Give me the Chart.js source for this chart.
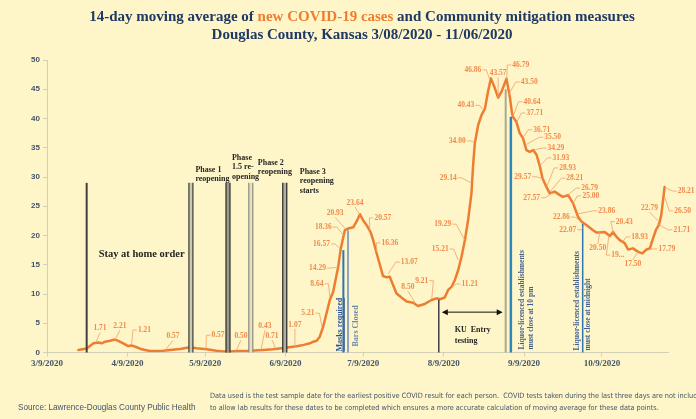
<!DOCTYPE html>
<html>
<head>
<meta charset="utf-8">
<script src="https://cdn.jsdelivr.net/npm/chart.js@4"></script>
<style>
  html, body { margin: 0; padding: 0; background: #fef6c9; }
  canvas { display: block; }
</style>
</head>
<body>
<canvas id="chart" width="696" height="419"></canvas>
<script>
// x axis: days since 3/9/2020
const tickDays = [0, 31, 61, 92, 122, 153, 184, 214];
const tickLabels = ['3/9/2020', '4/9/2020', '5/9/2020', '6/9/2020', '7/9/2020', '8/9/2020', '9/9/2020', '10/9/2020'];

// 14-day moving average
const days = [
  12.1, 15.3, 17.9, 19.8, 21.1, 22.4, 24.3, 26.2, 27.5, 29.4, 31.3, 32.6, 34.6, 36.5, 39.7, 42.3, 44.8, 47.4,
  51.3, 55.1, 57.7, 61.6, 65.4, 69.3, 73.1, 78.3, 83.4, 87.2, 91.1, 96.3, 99.0, 101.4, 102.7, 104.0, 105.2,
  106.5, 107.8, 109.1, 110.4, 111.0, 112.3, 113.2, 114.0, 114.9, 116.2, 118.1, 119.4, 120.7, 121.9, 123.2,
  124.8, 125.8, 127.1, 128.4, 129.6, 131.0, 132.2, 133.5, 134.8, 136.7, 138.7, 141.2, 143.1, 145.7, 148.3,
  150.2, 151.5, 153.4, 154.7, 156.0, 157.3, 158.6, 159.9, 161.2, 162.4, 163.7, 164.3, 165.0, 166.3, 167.6,
  168.9, 170.1, 171.2, 172.7, 174.0, 175.3, 177.2, 177.8, 178.5, 179.3, 179.7, 181.0, 182.3, 183.6, 184.9,
  186.2, 187.5, 188.8, 190.1, 191.1, 192.6, 193.9, 195.8, 197.8, 199.0, 201.0, 202.9, 204.8, 206.1, 208.0,
  210.6, 211.9, 213.2, 215.1, 217.1, 218.3, 219.6, 220.9, 222.8, 224.1, 226.0, 228.0, 229.6, 231.2, 232.5,
  233.5, 234.8, 236.0, 236.9, 238.2
];
const cases = [
  0.43, 0.7, 1.57, 1.71, 1.57, 1.85, 2.0, 2.21, 2.0, 1.57, 1.1, 1.21, 0.9, 0.55, 0.25, 0.25, 0.3, 0.43,
  0.6, 0.89, 0.72, 0.57, 0.3, 0.14, 0.25, 0.3, 0.43, 0.55, 0.75, 1.07, 1.3, 1.57, 1.85, 2.0, 2.7,
  4.4, 6.7, 9.0, 10.4, 11.8, 14.6, 17.5, 19.2, 20.93, 21.2, 21.4, 22.4, 23.64, 22.6, 21.8,
  20.57, 19.2, 17.0, 14.96, 13.07, 12.85, 12.96, 11.5, 10.1, 9.4, 8.7, 8.5, 7.95, 8.3, 8.97,
  9.26, 9.1, 9.4, 10.7, 11.21, 12.4, 14.1, 16.4, 19.29, 22.6, 27.2, 31.8, 35.8, 38.9, 40.6,
  41.7, 44.6, 46.86, 45.2, 43.57, 44.6, 46.79, 45.4, 43.7, 41.0, 40.3, 39.45, 37.5, 36.6, 34.6,
  34.3, 34.6, 33.8, 31.8, 29.8, 28.3, 27.2, 27.5, 26.9, 26.6, 26.9, 25.5, 23.2, 22.4, 21.8,
  20.9, 20.5, 20.5, 20.6, 19.9, 20.6, 19.8, 19.2, 18.7, 17.6, 17.8, 17.2, 16.95, 17.6, 17.8,
  19.2, 20.9, 21.8, 23.5, 28.3
];

// data labels: text, anchor day, anchor value
const labelTexts = ['1.71', '2.21', '1.21', '0.57', '0.57', '0.50', '0.43', '0.71', '1.07', '5.21', '8.64', '14.29',
  '16.57', '18.36', '20.93', '23.64', '20.57', '16.36', '13.07', '8.50', '9.21', '11.21', '15.21', '19.29', '29.14',
  '34.00', '40.43', '46.86', '43.57', '46.79', '43.50', '40.64', '37.71', '36.71', '35.50', '34.29', '31.93', '29.57',
  '28.93', '28.21', '27.57', '26.79', '25.00', '23.86', '22.86', '22.07', '20.50', '19...', '20.43', '18.93', '17.50',
  '17.79', '22.79', '21.71', '26.50', '28.21'];
const labelDays = [18.9, 26.2, 32.6, 45.5, 61.3, 72.9, 82.5, 88.3, 95.6, 106.0, 109.1, 112.4,
  113.2, 114.7, 115.0, 120.7, 124.5, 127.2, 131.6, 141.9, 148.4, 156.1, 158.6, 161.1, 163.6,
  164.4, 168.5, 170.8, 174.0, 177.3, 177.9, 179.7, 181.2, 183.5, 185.0, 187.4, 190.1, 191.2,
  192.7, 193.9, 195.0, 200.8, 202.8, 204.7, 206.1, 207.0, 213.2, 216.7, 218.4, 222.0, 227.9,
  232.5, 236.2, 235.2, 238.2, 238.8];
const labelVals = [1.71, 2.1, 1.28, 0.35, 0.55, 0.25, 0.38, 0.6, 0.97, 4.5, 9.5, 14.6,
  17.7, 19.9, 21.2, 23.5, 20.8, 17.2, 13.4, 8.6, 9.2, 11.2, 15.8, 19.2, 29.0,
  36.0, 41.4, 46.6, 43.6, 46.75, 44.0, 40.3, 39.4, 36.7, 35.6, 34.6, 31.9, 29.7,
  28.3, 27.4, 27.3, 26.9, 25.4, 23.7, 22.3, 21.5, 20.6, 19.9, 20.5, 18.9, 17.2,
  17.7, 22.3, 22.0, 26.6, 28.1];
// where each label text sits relative to its anchor (px)
const labelOffsets = [[4, -14], [5, -14], [13, -15], [8, -14], [12, -14], [5, -15], [4, -24], [-4, -13], [0, -22], [-14, -13], [-13, -13], [-21, 1],
  [-19, -5], [-21, -9], [-10, -15], [-5, -12], [13, -13], [13, -9], [21, -12], [-7, -15], [-10, -18], [18, -3], [-18, -11], [-22, -16], [-23, -5],
  [-16, -1], [-18, -5], [-17, -10], [0, -24], [14, -14], [21, -13], [19, -15], [18, -9], [19, -8], [26, -7], [23, -2], [21, -8], [-20, -2],
  [21, -19], [25, -14], [-21, 5], [22, -7], [18, -8], [29, -3], [-20, -5], [-16, 3], [-2, 16], [9, 19], [11, -11], [17, -5], [-5, 12],
  [17, 0], [-10, -14], [25, 6], [18, 14], [20, 3]];

// community mitigation events (day since 3/9, top of marker line)
const phaseDays = [15.3, 55.5, 69.8, 78.6, 91.7];
const phaseTop = 29;
const masksDay = 114.3, masksTop = 17.5;
const barsDay = 116.1, barsTop = 20.9;
const kuDay = 151.1, kuTop = 9.0;
const liquorDay = 176.9, liquorTop = 45.0;
const liquor10Day = 178.9, liquor10Top = 40.3;
const midnightDay = 206.6, midnightTop = 22.0;

const BG = '#fef6c9';
const ORANGE = '#ed7d31';
const NAVY = '#1f3864';
const SERIF = '"Liberation Serif", "DejaVu Serif", serif';

function vtext(c, str, x, y, font, color, underline) {
  c.save();
  c.translate(x, y);
  c.rotate(-Math.PI / 2);
  c.font = font;
  c.fillStyle = color;
  c.textAlign = 'left';
  c.textBaseline = 'middle';
  c.fillText(str, 0, 0);
  if (underline) {
    const w = c.measureText(str).width;
    c.strokeStyle = color;
    c.lineWidth = 0.8;
    c.beginPath(); c.moveTo(0, 4); c.lineTo(w, 4); c.stroke();
  }
  c.restore();
}

function phaseBar(c, x, top, bottom, edge, fill) {
  c.fillStyle = fill;
  c.fillRect(x - 2, top, 4, bottom - top);
  c.strokeStyle = edge;
  c.lineWidth = 1.2;
  c.beginPath();
  c.moveTo(x - 2, top); c.lineTo(x - 2, bottom);
  c.moveTo(x + 2, top); c.lineTo(x + 2, bottom);
  c.stroke();
}

function vline(c, x, top, bottom, color, width) {
  c.strokeStyle = color;
  c.lineWidth = width;
  c.beginPath(); c.moveTo(x, top); c.lineTo(x, bottom); c.stroke();
}

const overlay = {
  id: 'overlay',
  beforeDraw(chart) {
    const c = chart.ctx;
    c.save();
    c.fillStyle = BG;
    c.fillRect(0, 0, chart.width, chart.height);
    c.restore();
  },
  afterDatasetsDraw(chart) {
    const c = chart.ctx;
    const xs = chart.scales.x, ys = chart.scales.y;
    const X = (d) => xs.getPixelForValue(d);
    const Y = (v) => ys.getPixelForValue(v);
    const base = Y(0);
    c.save();

    // title
    const t1 = [['14-day moving average of ', NAVY], ['new COVID-19 cases', ORANGE], [' and Community mitigation measures', NAVY]];
    c.font = 'bold 15px ' + SERIF;
    c.textBaseline = 'middle';
    c.textAlign = 'left';
    const w1 = t1.reduce((s, p) => s + c.measureText(p[0]).width, 0);
    let tx = 362 - w1 / 2;
    t1.forEach(([s, col]) => { c.fillStyle = col; c.fillText(s, tx, 17); tx += c.measureText(s).width; });
    c.textAlign = 'center';
    c.fillStyle = NAVY;
    c.fillText('Douglas County, Kansas 3/08/2020 - 11/06/2020', 362, 35);

    // phase markers
    const pTop = Y(phaseTop);
    vline(c, X(phaseDays[0]), pTop, base, '#404040', 2);
    phaseBar(c, X(phaseDays[1]), pTop, base, '#3a3a3a', '#c9c9b0');
    phaseBar(c, X(phaseDays[2]), pTop, base, '#2e2e2e', '#9a9a8a');
    phaseBar(c, X(phaseDays[3]), pTop, base, '#8c8c80', '#e4e0c0');
    phaseBar(c, X(phaseDays[4]), pTop, base, '#262626', '#b0b0a0');

    // other measures
    vline(c, X(masksDay), Y(masksTop), base, '#2e75b6', 2);
    vline(c, X(barsDay), Y(barsTop), base, '#8fa3bf', 2);
    vline(c, X(kuDay), Y(kuTop), base, '#404040', 1.5);
    vline(c, X(liquorDay), Y(liquorTop), base, '#a9a98f', 2);
    vline(c, X(liquor10Day), Y(liquor10Top), base, '#2e86c1', 2.5);
    vline(c, X(midnightDay), Y(midnightTop), base, '#2e75b6', 1.5);

    // annotations
    c.fillStyle = '#262626';
    c.textAlign = 'center';
    c.font = 'bold 10.5px ' + SERIF;
    c.fillText('Stay at home order', X(phaseDays[0]) + 55, Y(16.8));
    c.textAlign = 'left';
    c.font = 'bold 8px ' + SERIF;
    const ph = [
      [1, 4.5, ['Phase 1', 'reopening'], -13],
      [2, 4, ['Phase', '1.5 re-', 'opening'], -25],
      [3, 7, ['Phase 2', 'reopening'], -20],
      [4, 15, ['Phase 3', 'reopening', 'starts'], -11]
    ];
    ph.forEach(([i, dx, lines, dy]) => {
      lines.forEach((s, k) => c.fillText(s, X(phaseDays[i]) + dx, pTop + dy + k * 9.5));
    });

    vtext(c, 'Masks required', X(masksDay) - 3, base - 1, 'bold 8px ' + SERIF, '#2f5597', true);
    vtext(c, 'Bars Closed', X(barsDay) + 8, base - 6, 'bold 8px ' + SERIF, '#6d86aa');
    vtext(c, 'Liquor-licenced establishments', X(liquor10Day) + 11.5, base - 3, 'bold 7.5px ' + SERIF, '#44608f');
    vtext(c, 'must close at 10 pm', X(liquor10Day) + 20, base - 3, 'bold 7.5px ' + SERIF, '#44608f');
    vtext(c, 'Liquor-licenced establishments', X(midnightDay) - 5.5, base - 2, 'bold 7.5px ' + SERIF, '#44608f');
    vtext(c, 'must close at midnight', X(midnightDay) + 5.5, base - 2, 'bold 7.5px ' + SERIF, '#44608f');

    // KU entry testing arrow
    const ay = Y(6.9), ax1 = X(kuDay) + 3, ax2 = X(liquorDay) - 3;
    c.strokeStyle = '#111';
    c.fillStyle = '#111';
    c.lineWidth = 1;
    c.beginPath(); c.moveTo(ax1 + 4, ay); c.lineTo(ax2 - 4, ay); c.stroke();
    c.beginPath(); c.moveTo(ax1, ay); c.lineTo(ax1 + 6, ay - 3); c.lineTo(ax1 + 6, ay + 3); c.closePath(); c.fill();
    c.beginPath(); c.moveTo(ax2, ay); c.lineTo(ax2 - 6, ay - 3); c.lineTo(ax2 - 6, ay + 3); c.closePath(); c.fill();
    c.font = 'bold 8px ' + SERIF;
    c.fillStyle = '#262626';
    c.fillText('KU  Entry', X(kuDay) + 16, Y(3.9));
    c.fillText('testing', X(kuDay) + 16, Y(2.0));

    // data labels with leader lines
    c.font = 'bold 7.5px ' + SERIF;
    c.textAlign = 'center';
    c.textBaseline = 'middle';
    labelTexts.forEach((s, i) => {
      const px = X(labelDays[i]), py = Y(labelVals[i]);
      const [dx, dy] = labelOffsets[i];
      const lx = px + dx, ly = py + dy;
      const w = c.measureText(s).width;
      c.strokeStyle = '#f3a06a';
      c.lineWidth = 0.8;
      c.beginPath();
      c.moveTo(px, py);
      if (Math.abs(dx) > w / 2 + 2) {
        const sgn = dx < 0 ? 1 : -1;
        c.lineTo(lx + sgn * (w / 2 + 5), ly);
        c.lineTo(lx + sgn * (w / 2 + 1), ly);
      } else {
        c.lineTo(lx, ly + (dy < 0 ? 4 : -4));
      }
      c.stroke();
      c.fillStyle = '#f08a4b';
      c.fillText(s, lx, ly);
    });

    // footer
    c.textAlign = 'left';
    c.fillStyle = '#44546a';
    c.font = '8.2px "Liberation Sans", Arial, sans-serif';
    c.fillText('Source: Lawrence-Douglas County Public Health', 18, 408);
    c.font = '7.3px "Liberation Sans Narrow", "DejaVu Sans Condensed", sans-serif';
    c.fillText('Data used is the test sample date for the earliest positive COVID result for each person.  COVID tests taken during the last three days are not included', 210, 396);
    c.fillText('to allow lab results for these dates to be completed which ensures a more accurate calculation of moving average for these data points.', 210, 408);
    c.restore();
  }
};

new Chart(document.getElementById('chart'), {
  type: 'line',
  data: {
    datasets: [{
      data: days.map((d, i) => ({ x: d, y: cases[i] })),
      borderColor: ORANGE,
      borderWidth: 2.5,
      pointRadius: 0,
      tension: 0,
      borderJoinStyle: 'round',
      borderCapStyle: 'round',
    }],
  },
  options: {
    responsive: false,
    animation: false,
    layout: { padding: { top: 60, right: 28, left: 0, bottom: 0 } },
    plugins: { legend: { display: false }, tooltip: { enabled: false } },
    scales: {
      x: {
        type: 'linear',
        min: 0,
        max: 239.5,
        afterBuildTicks: (s) => { s.ticks = tickDays.map((v) => ({ value: v })); },
        afterFit: (s) => { s.height = 66.5; },
        ticks: {
          autoSkip: false,
          maxRotation: 0,
          padding: 2,
          color: '#44546a',
          font: { family: SERIF, size: 9, weight: 'bold' },
          callback: (v, i) => tickLabels[i],
        },
        grid: { drawOnChartArea: false, tickLength: 4, color: '#d4d0b8' },
        border: { color: '#d4d0b8' },
      },
      y: {
        min: 0,
        max: 50,
        afterFit: (s) => { s.width = 47; },
        ticks: {
          stepSize: 5,
          padding: 3,
          color: '#44546a',
          font: { family: '"Liberation Sans", Arial, sans-serif', size: 8, weight: 'bold' },
        },
        grid: { drawOnChartArea: false, tickLength: 4, color: '#d4d0b8' },
        border: { color: '#d4d0b8' },
      },
    },
  },
  plugins: [overlay],
});
</script>
</body>
</html>
